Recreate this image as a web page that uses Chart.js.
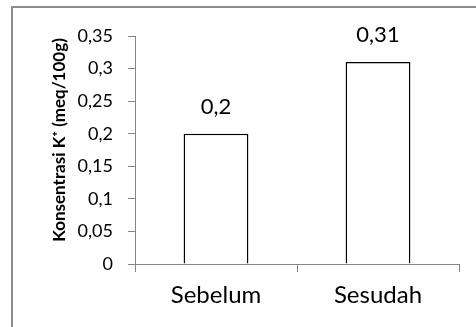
<!DOCTYPE html>
<html lang="id">
<head>
    <meta charset="UTF-8">
    <title>Konsentrasi K+</title>
    <script src="https://cdn.jsdelivr.net/npm/chart.js"></script>
    <style>
        html, body { margin: 0; padding: 0; background: #fff; }
        #wrap { width: 476px; height: 327px; position: relative; }
    </style>
</head>
<body>
    <div id="wrap"><canvas id="myChart" width="476" height="327"></canvas></div>

    <script>
        // data
        const categories = ['Sebelum', 'Sesudah'];
        const values = [0.2, 0.31];
        const yTitle = 'Konsentrasi K\u207A (meq/100g)';

        const fmt = v => String(+v.toFixed(2)).replace('.', ',');

        // frame around the chart (only top and left edges show in the crop)
        // plus the rotated y title, which sits a bit above the axis middle
        const frame = {
            id: 'frame',
            beforeDraw(chart) {
                const ctx = chart.ctx;
                ctx.save();
                ctx.strokeStyle = '#8c8c8c';
                ctx.lineWidth = 2;
                ctx.beginPath();
                ctx.moveTo(12, 330);
                ctx.lineTo(12, 7);
                ctx.lineTo(480, 7);
                ctx.stroke();

                ctx.translate(60, 140);
                ctx.rotate(-Math.PI / 2);
                ctx.font = 'bold 17px Lato';
                ctx.fillStyle = '#000';
                ctx.textAlign = 'center';
                ctx.textBaseline = 'middle';
                ctx.fillText(yTitle, 0, 0);
                ctx.restore();
            }
        };

        // value labels above the bars
        const valueLabels = {
            id: 'valueLabels',
            afterDatasetsDraw(chart) {
                const ctx = chart.ctx;
                const meta = chart.getDatasetMeta(0);
                ctx.save();
                ctx.font = '22px Lato';
                ctx.fillStyle = '#000';
                ctx.textAlign = 'center';
                ctx.textBaseline = 'middle';
                meta.data.forEach((bar, i) => {
                    ctx.fillText(fmt(values[i]), bar.x, bar.y - 27);
                });
                ctx.restore();
            }
        };

        new Chart(document.getElementById('myChart'), {
            type: 'bar',
            data: {
                labels: categories,
                datasets: [{
                    data: values,
                    backgroundColor: '#ffffff',
                    borderColor: '#000000',
                    borderWidth: 1.5,
                    categoryPercentage: 1,
                    barPercentage: 0.4
                }]
            },
            options: {
                responsive: false,
                animation: false,
                layout: { padding: { top: 36, right: 17, bottom: 0, left: 0 } },
                plugins: {
                    legend: { display: false },
                    tooltip: { enabled: false }
                },
                scales: {
                    x: {
                        afterFit(scale) { scale.height = 63; },
                        grid: {
                            offset: true,
                            drawOnChartArea: false,
                            tickLength: 8,
                            color: '#868686'
                        },
                        border: { color: '#868686', width: 1 },
                        ticks: {
                            color: '#000',
                            padding: 9,
                            font: { family: 'Lato', size: 24 }
                        }
                    },
                    y: {
                        min: 0,
                        max: 0.35,
                        afterFit(scale) { scale.width = 135; },
                        grid: {
                            drawOnChartArea: false,
                            tickLength: 7,
                            color: '#868686'
                        },
                        border: { color: '#868686', width: 1 },
                        ticks: {
                            stepSize: 0.05,
                            color: '#000',
                            padding: 15,
                            font: { family: 'Lato', size: 18 },
                            callback: v => fmt(v)
                        }
                    }
                }
            },
            plugins: [frame, valueLabels]
        });
    </script>
</body>
</html>
